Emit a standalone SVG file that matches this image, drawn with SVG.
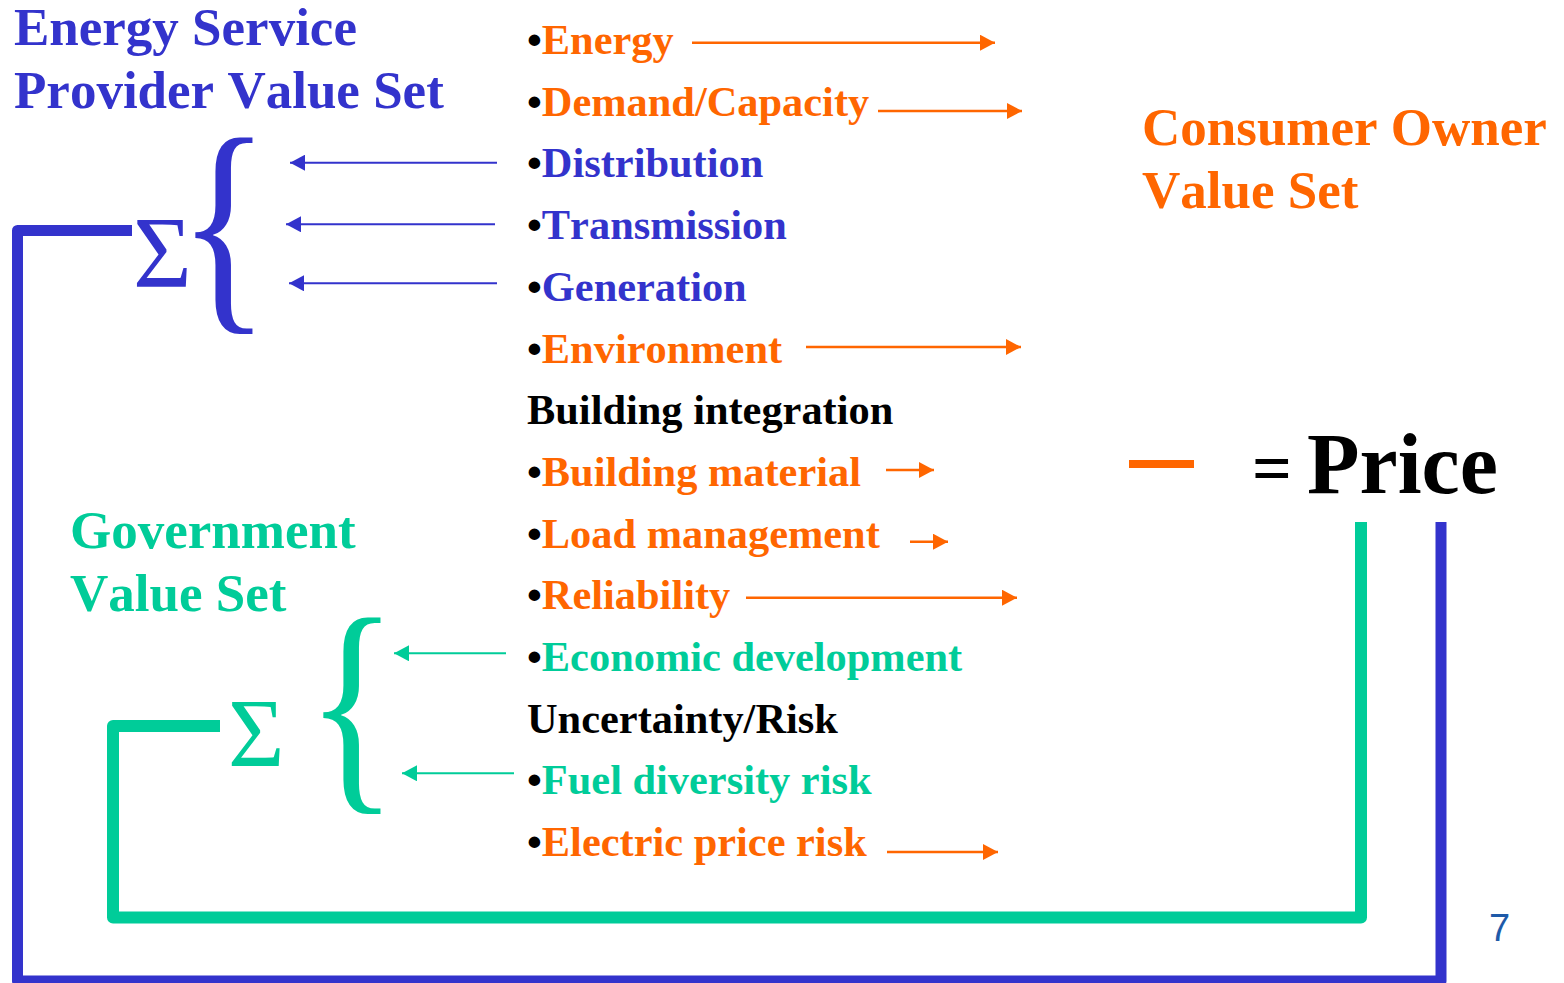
<svg xmlns="http://www.w3.org/2000/svg" width="1564" height="983" viewBox="0 0 1564 983">
<style>
  text { font-family: "Liberation Serif", "Times New Roman", serif; font-kerning: none; }
  .b { font-weight: bold; }
  .item { font-size: 42.4px; font-weight: bold; }
  .title { font-size: 53px; font-weight: bold; }
  .blue { fill: #3333CC; }
  .orange { fill: #FF6600; }
  .green { fill: #00CC99; }
  .black { fill: #000000; }
  .sym { font-weight: normal; }
  .pnum { font-family: "Liberation Sans", Arial, sans-serif; font-size: 38px; fill: #1E5AA8; }
  .conn { fill: none; stroke-linejoin: round; stroke-linecap: butt; }
  .arr-o { stroke: #FF6600; stroke-width: 2.5; marker-end: url(#ho); }
  .arr-b { stroke: #3333CC; stroke-width: 2; marker-end: url(#hb); }
  .arr-g { stroke: #00CC99; stroke-width: 2; marker-end: url(#hg); }
</style>
<defs>
  <marker id="ho" markerUnits="userSpaceOnUse" markerWidth="16" markerHeight="16" refX="15" refY="8" orient="auto">
    <path d="M0,0 L15,8 L0,16 z" fill="#FF6600"/>
  </marker>
  <marker id="hb" markerUnits="userSpaceOnUse" markerWidth="16" markerHeight="16" refX="15" refY="8" orient="auto">
    <path d="M0,0 L15,8 L0,16 z" fill="#3333CC"/>
  </marker>
  <marker id="hg" markerUnits="userSpaceOnUse" markerWidth="16" markerHeight="16" refX="15" refY="8" orient="auto">
    <path d="M0,0 L15,8 L0,16 z" fill="#00CC99"/>
  </marker>
</defs>
<rect width="1564" height="983" fill="#ffffff"/>

<g id="connectors">
  <path class="conn" d="M132,230.5 H17.5 V981 H1441 V522" stroke="#3333CC" stroke-width="11"/>
  <path class="conn" d="M220,726 H113 V917.5 H1361 V522" stroke="#00CC99" stroke-width="12"/>
  <line class="arr-b" x1="497" y1="162.7" x2="290" y2="162.7"/>
  <line class="arr-b" x1="495" y1="224.3" x2="286" y2="224.3"/>
  <line class="arr-b" x1="497" y1="283.3" x2="289" y2="283.3"/>
  <line class="arr-g" x1="506" y1="653.3" x2="394" y2="653.3"/>
  <line class="arr-g" x1="514" y1="773.3" x2="402" y2="773.3"/>
  <line class="arr-o" x1="692" y1="42.7" x2="995" y2="42.7"/>
  <line class="arr-o" x1="878" y1="111" x2="1022" y2="111"/>
  <line class="arr-o" x1="806" y1="347" x2="1021" y2="347"/>
  <line class="arr-o" x1="886" y1="470" x2="934" y2="470"/>
  <line class="arr-o" x1="910" y1="541.7" x2="948" y2="541.7"/>
  <line class="arr-o" x1="746" y1="597.7" x2="1017" y2="597.7"/>
  <line class="arr-o" x1="887" y1="852" x2="998" y2="852"/>
</g>

<g id="esp-title">
  <text class="title blue" x="14" y="45">Energy Service</text>
  <text class="title blue" x="14" y="108">Provider Value Set</text>
</g>
<g id="consumer-title">
  <text class="title orange" x="1142" y="145">Consumer Owner</text>
  <text class="title orange" x="1142" y="208">Value Set</text>
</g>
<g id="gov-title">
  <text class="title green" x="70" y="548">Government</text>
  <text class="title green" x="70" y="611">Value Set</text>
</g>

<g id="esp-sum">
  <text class="blue sym" x="133" y="287" font-size="101">Σ</text>
  <text class="blue sym" transform="translate(178,301.8) scale(0.843,1.043)" x="0" y="0" font-size="227">{</text>
</g>
<g id="gov-sum">
  <text class="green sym" x="228" y="766" font-size="97">Σ</text>
  <text class="green sym" transform="translate(306,781.8) scale(0.843,1.043)" x="0" y="0" font-size="227">{</text>
</g>

<g id="items">
  <text class="item" x="527" y="54"><tspan class="black">•</tspan><tspan class="orange">Energy</tspan></text>
  <text class="item" x="527" y="115.7"><tspan class="black">•</tspan><tspan class="orange">Demand/Capacity</tspan></text>
  <text class="item" x="527" y="177.4"><tspan class="black">•</tspan><tspan class="blue">Distribution</tspan></text>
  <text class="item" x="527" y="239.1"><tspan class="black">•</tspan><tspan class="blue">Transmission</tspan></text>
  <text class="item" x="527" y="300.8"><tspan class="black">•</tspan><tspan class="blue">Generation</tspan></text>
  <text class="item" x="527" y="362.5"><tspan class="black">•</tspan><tspan class="orange">Environment</tspan></text>
  <text class="item black" x="527" y="424.2">Building integration</text>
  <text class="item" x="527" y="485.9"><tspan class="black">•</tspan><tspan class="orange">Building material</tspan></text>
  <text class="item" x="527" y="547.6"><tspan class="black">•</tspan><tspan class="orange">Load management</tspan></text>
  <text class="item" x="527" y="609.3"><tspan class="black">•</tspan><tspan class="orange">Reliability</tspan></text>
  <text class="item" x="527" y="671"><tspan class="black">•</tspan><tspan class="green">Economic development</tspan></text>
  <text class="item black" x="527" y="732.7">Uncertainty/Risk</text>
  <text class="item" x="527" y="794.4"><tspan class="black">•</tspan><tspan class="green">Fuel diversity risk</tspan></text>
  <text class="item" x="527" y="856.1"><tspan class="black">•</tspan><tspan class="orange">Electric price risk</tspan></text>
</g>

<g id="price">
  <rect x="1129" y="460" width="65" height="8" fill="#FF6600"/>
  <text class="b black" x="1252" y="492" font-size="70">=</text>
  <text class="b black" x="1307" y="493" font-size="86">Price</text>
</g>

<g id="page-number">
  <text class="pnum" x="1489" y="941">7</text>
</g>
</svg>
